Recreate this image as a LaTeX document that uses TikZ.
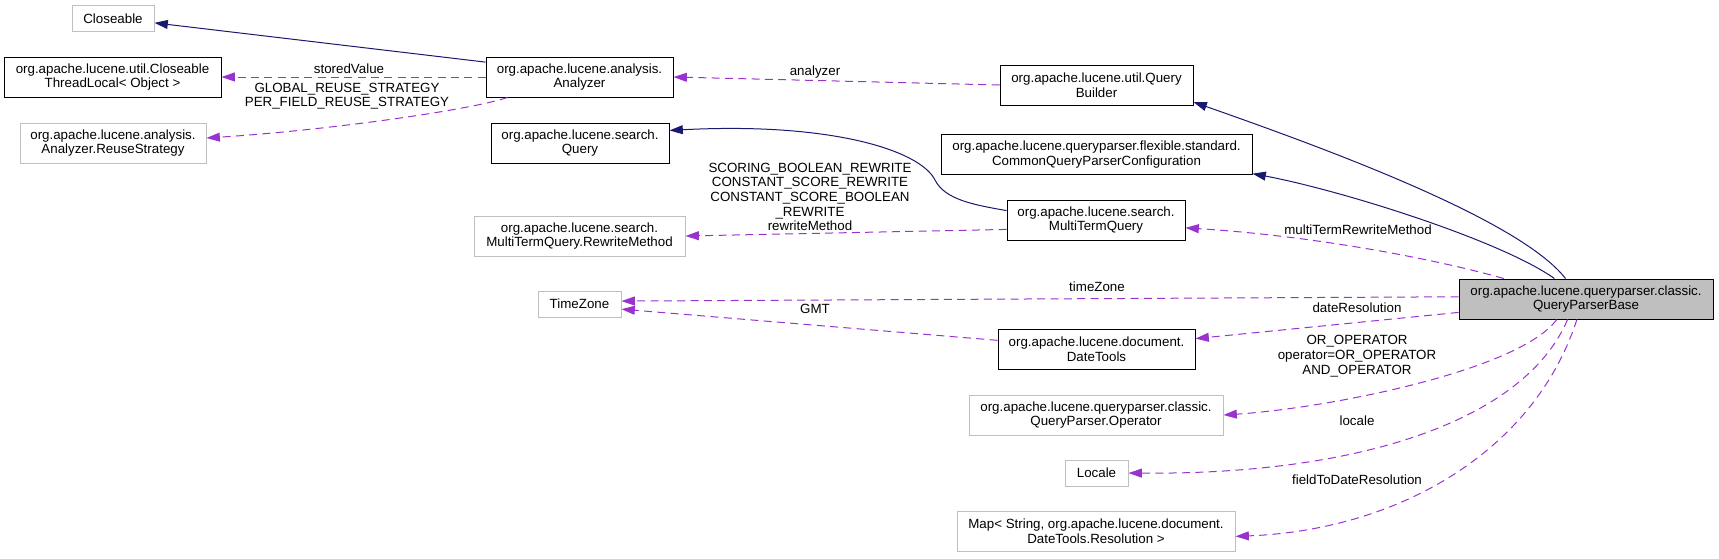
\documentclass[tikz,border=0pt]{standalone}
\usepackage{fontspec}
\setmainfont{Liberation Sans}
\usetikzlibrary{arrows.meta}
\definecolor{inhblue}{HTML}{191970}
\definecolor{usepurple}{HTML}{9A32CD}
\definecolor{extgray}{HTML}{BFBFBF}
\tikzset{
  cls/.style={draw=black,fill=white,line width=.75pt,align=center,inner sep=2pt,minimum height=30pt,font=\fontsize{10}{11}\selectfont},
  ext/.style={cls,draw=extgray},
  cur/.style={cls,fill=extgray},
  small/.style={minimum height=19.5pt},
  lbl/.style={align=center,inner sep=0pt,font=\fontsize{10}{11}\selectfont},
  inh/.style={-{Triangle[length=10pt,width=6.7pt]},draw=inhblue,line width=.75pt},
  use/.style={-{Triangle[length=10pt,width=6.7pt]},draw=usepurple,fill=none,line width=.75pt,dash pattern=on 6pt off 4pt},
}
\begin{document}
\begin{tikzpicture}[x=.75pt,y=-.75pt]
\useasboundingbox (0,0) rectangle (1719,558);
% classes
\node[ext,small,minimum width=61.5pt] (closeable) at (113,18.5) {Closeable};
\node[cls,minimum width=162.75pt] (ctl) at (112.5,77) {org.apache.lucene.util.Closeable\\ThreadLocal< Object >};
\node[ext,minimum width=139.5pt] (reuse) at (113,143) {org.apache.lucene.analysis.\\Analyzer.ReuseStrategy};
\node[cls,minimum width=140.25pt] (analyzer) at (579.5,77) {org.apache.lucene.analysis.\\Analyzer};
\node[cls,minimum width=133.5pt] (query) at (580,143) {org.apache.lucene.search.\\Query};
\node[ext,minimum width=158.25pt] (rewrite) at (579.5,236) {org.apache.lucene.search.\\MultiTermQuery.RewriteMethod};
\node[ext,small,minimum width=62.25pt] (timezone) at (579.5,304) {TimeZone};
\node[cls,minimum width=144.75pt] (qbuilder) at (1096.5,85) {org.apache.lucene.util.Query\\Builder};
\node[cls,minimum width=233.25pt] (cqpc) at (1096.5,154.5) {org.apache.lucene.queryparser.flexible.standard.\\CommonQueryParserConfiguration};
\node[cls,minimum width=133.5pt] (mtq) at (1096,220) {org.apache.lucene.search.\\MultiTermQuery};
\node[cls,minimum width=147.75pt] (datetools) at (1096.5,349) {org.apache.lucene.document.\\DateTools};
\node[ext,minimum width=190.5pt] (operator) at (1096,415) {org.apache.lucene.queryparser.classic.\\QueryParser.Operator};
\node[ext,small,minimum width=47.25pt] (locale) at (1096.5,473) {Locale};
\node[ext,minimum width=208.5pt] (map) at (1096,531.5) {Map< String, org.apache.lucene.document.\\DateTools.Resolution >};
\node[cur,minimum width=190.5pt] (qpb) at (1586,299) {org.apache.lucene.queryparser.classic.\\QueryParserBase};
% inheritance
\draw[inh] (analyzer.171) -- (closeable.-6);
\draw[inh] (qpb.135) .. controls (1520,220) and (1330,150) .. (qbuilder.-10);
\draw[inh] (qpb.147) .. controls (1500,240) and (1340,190) .. (cqpc.-7);
\draw[inh] (mtq.174) .. controls (975,205) and (945,200) .. (935,180) .. controls (920,150) and (830,122) .. (query.8);
% usage
\draw[use] (analyzer.west) -- (ctl.east);
\draw[use] ([xshift=16.5pt]analyzer.south west) .. controls (470,110) and (330,130) .. ([yshift=3.75pt]reuse.east);
\draw[use] (qbuilder.west) -- (analyzer.east);
\draw[use] (mtq.186) -- (rewrite.east);
\draw[use] (qpb.166) .. controls (1420,255) and (1300,235) .. (mtq.-5);
\draw[use] (qpb.179) -- (timezone.4);
\draw[use] (datetools.175) -- (timezone.-7);
\draw[use] (qpb.186) -- (datetools.6);
\draw[use] (qpb.215) .. controls (1520,370) and (1330,408) .. (operator.east);
\draw[use] (qpb.228) .. controls (1525,420) and (1360,475) .. (locale.east);
\draw[use] (qpb.246) .. controls (1535,450) and (1400,530) .. (map.-2);
% edge labels
\node[lbl] (lstored) at (349,69) {storedValue};
\node[lbl] (lreuse) at (347,96) {GLOBAL\_REUSE\_STRATEGY\\PER\_FIELD\_REUSE\_STRATEGY};
\node[lbl] (lanalyzer) at (815,72) {analyzer};
\node[lbl] (lrewrite) at (810,197) {SCORING\_BOOLEAN\_REWRITE\\CONSTANT\_SCORE\_REWRITE\\CONSTANT\_SCORE\_BOOLEAN\\\_REWRITE\\rewriteMethod};
\node[lbl] (lmulti) at (1358,230) {multiTermRewriteMethod};
\node[lbl] (ltz) at (1097,287) {timeZone};
\node[lbl] (lgmt) at (815,309) {GMT};
\node[lbl] (ldate) at (1357,308) {dateResolution};
\node[lbl] (lop) at (1357,356) {OR\_OPERATOR\\operator=OR\_OPERATOR\\AND\_OPERATOR};
\node[lbl] (llocale) at (1357,421) {locale};
\node[lbl] (lfield) at (1357,480) {fieldToDateResolution};
\end{tikzpicture}
\end{document}
